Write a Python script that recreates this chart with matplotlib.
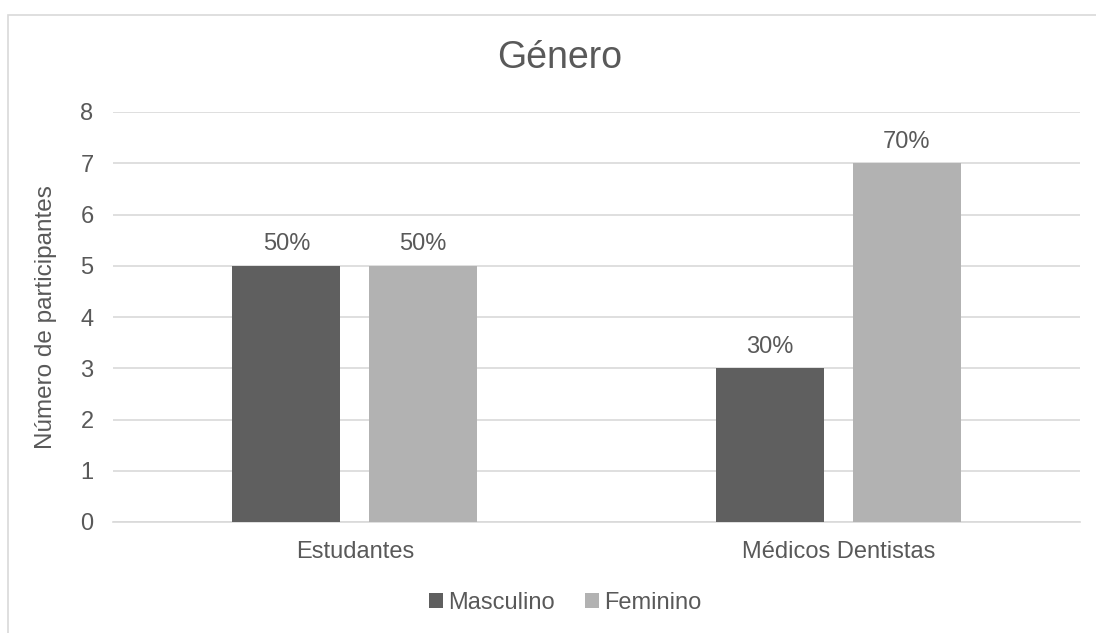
import matplotlib
matplotlib.use("Agg")
import matplotlib.pyplot as plt
import numpy as np
from matplotlib.patches import Rectangle

categories = ["Estudantes", "Médicos Dentistas"]
series_names = ["Masculino", "Feminino"]
masculino = [5, 3]
feminino = [5, 7]
labels_masc = ["50%", "30%"]
labels_fem = ["50%", "70%"]
yticks = [0, 1, 2, 3, 4, 5, 6, 7, 8]

plt.rcParams["font.family"] = ["Liberation Sans", "DejaVu Sans"]
text_col = "#595959"
dark = "#5f5f5f"
light = "#b2b2b2"

fig = plt.figure(figsize=(10.96, 6.33), dpi=100)
ax = fig.add_axes([113 / 1096, 1 - 522 / 633, (1080 - 113) / 1096, (522 - 112) / 633])

# chart border (only top and left visible)
fig.patches.append(Rectangle((8 / 1096, -0.1), 1.2, 1 - 15 / 633 + 0.1,
                             transform=fig.transFigure, fill=False,
                             edgecolor="#d9d9d9", linewidth=1.2))

x = np.arange(len(categories))
w = 0.223
gap = 0.06
off = (w + gap) / 2
b1 = ax.bar(x - off, masculino, w, color=dark, label=series_names[0], zorder=3)
b2 = ax.bar(x + off, feminino, w, color=light, label=series_names[1], zorder=3)

for bars, labs in ((b1, labels_masc), (b2, labels_fem)):
    for r, lab in zip(bars, labs):
        ax.annotate(lab, (r.get_x() + r.get_width() / 2, r.get_height()),
                    xytext=(0, 7.5), textcoords="offset points",
                    ha="center", va="bottom", fontsize=17, color=text_col)

ax.set_xlim(-0.5, 1.5)
ax.set_ylim(0, 8)
ax.set_yticks(yticks)
ax.set_xticks(x)
ax.set_xticklabels(categories)
ax.grid(axis="y", color="#d9d9d9", linewidth=1.2, zorder=0)
for s in ["top", "right", "left"]:
    ax.spines[s].set_visible(False)
ax.spines["bottom"].set_color("#d9d9d9")
ax.spines["bottom"].set_linewidth(1.2)
ax.tick_params(axis="both", length=0, labelsize=17, colors=text_col)
ax.tick_params(axis="y", pad=14)
ax.tick_params(axis="x", pad=14)

ax.set_ylabel("Número de participantes", fontsize=17.5, color=text_col, labelpad=17)
fig.text(560 / 1096, 1 - 58 / 633, "Género", ha="center", va="center", fontsize=27, color=text_col)

fig.legend(handles=[b1, b2], loc="center", bbox_to_anchor=(565 / 1096, 1 - 603 / 633),
           ncol=2, frameon=False, fontsize=17, labelcolor=text_col,
           handlelength=0.6, handleheight=0.6, handletextpad=0.2, columnspacing=1.3)

fig.savefig("out.png", dpi=100, facecolor="white")
